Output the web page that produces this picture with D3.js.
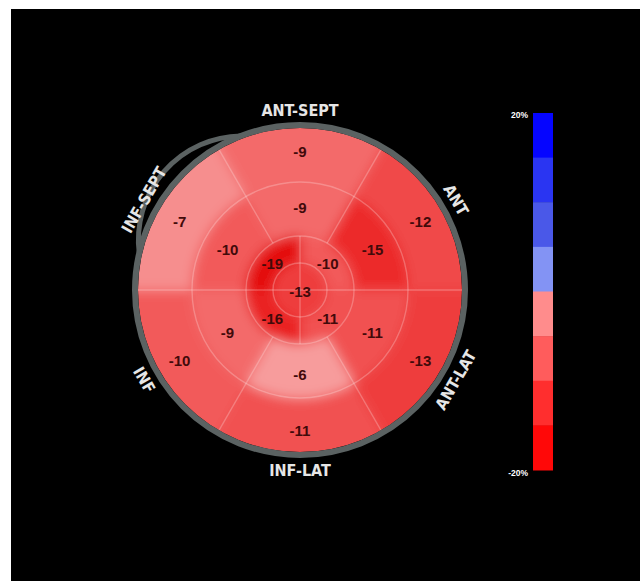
<!DOCTYPE html>
<html>
<head>
<meta charset="utf-8">
<script src="https://cdn.jsdelivr.net/npm/d3@7"></script>
<style>
  html, body { margin: 0; padding: 0; background: #fff; }
  svg { display: block; }
</style>
</head>
<body>
<svg id="chart" width="640" height="581"></svg>
<script>
// wall names, clockwise from the top
var walls = ["ANT-SEPT", "ANT", "ANT-LAT", "INF-LAT", "INF", "INF-SEPT"];
// peak strain (%) per segment
var basal = [-9, -12, -13, -11, -10, -7];
var mid = [-9, -15, -11, -6, -9, -10];
var apical = [-10, -11, -16, -19]; // quadrants clockwise from top-right
var apex = [-13];
// colour bar
var barSteps = [20, 15, 10, 5, 0, -5, -10, -15];
var barTicks = ["20%", "-20%"];

var svg = d3.select("#chart");
var cx = 300, cy = 290;
var unit = 27; // ring width

// black panel
svg.append("rect")
  .attr("x", 11).attr("y", 9)
  .attr("width", 629).attr("height", 572)
  .attr("fill", "#000");

// strain -> colour used inside the plot
var col = d3.scaleLinear()
  .domain([-20, -15, -10, -7, -5])
  .range(["#e20000", "#ec2c2c", "#f25a5a", "#f68e8e", "#f8aaaa"])
  .clamp(true);

var defs = svg.append("defs");
defs.append("filter").attr("id", "soft")
  .attr("x", "-20%").attr("y", "-20%").attr("width", "140%").attr("height", "140%")
  .append("feGaussianBlur").attr("stdDeviation", 6);
defs.append("clipPath").attr("id", "disc")
  .append("circle").attr("r", unit * 6);

var g = svg.append("g").attr("transform", "translate(" + cx + "," + cy + ")");

var arc = d3.arc();
var sixth = Math.PI / 3;

// build segment list from the arrays
var segs = [];
basal.forEach(function(v, i) {
  segs.push({v: v, r0: unit * 4, r1: unit * 6.6, a0: (i - 0.5) * sixth, a1: (i + 0.5) * sixth, lr: unit * 5.15, la: i * sixth});
});
mid.forEach(function(v, i) {
  segs.push({v: v, r0: unit * 2, r1: unit * 4, a0: (i - 0.5) * sixth, a1: (i + 0.5) * sixth, lr: unit * 3.1, la: i * sixth});
});
apical.forEach(function(v, i) {
  segs.push({v: v, r0: unit, r1: unit * 2, a0: i * Math.PI / 2, a1: (i + 1) * Math.PI / 2, lr: unit * 1.45, la: (i + 0.5) * Math.PI / 2});
});
apex.forEach(function(v) {
  segs.push({v: v, r0: 0, r1: unit, a0: 0, a1: 2 * Math.PI, lr: 0, la: 0});
});

var field = g.append("g").attr("clip-path", "url(#disc)")
  .append("g").attr("filter", "url(#soft)");

field.selectAll("path")
  .data(segs)
  .enter().append("path")
  .attr("d", function(d) {
    return arc({innerRadius: d.r0, outerRadius: d.r1, startAngle: d.a0, endAngle: d.a1});
  })
  .attr("fill", function(d) { return col(d.v); })
  .attr("stroke", function(d) { return col(d.v); })
  .attr("stroke-width", 1);

// faint segment outlines
var grid = g.append("g")
  .attr("stroke", "rgba(255,235,235,0.28)")
  .attr("stroke-width", 1.4)
  .attr("fill", "none");
[1, 2, 4].forEach(function(k) {
  grid.append("circle").attr("r", unit * k);
});
d3.range(6).forEach(function(i) {
  var a = (i + 0.5) * sixth;
  grid.append("line")
    .attr("x1", unit * 2 * Math.sin(a)).attr("y1", -unit * 2 * Math.cos(a))
    .attr("x2", unit * 6 * Math.sin(a)).attr("y2", -unit * 6 * Math.cos(a));
});
d3.range(4).forEach(function(i) {
  var a = i * Math.PI / 2;
  grid.append("line")
    .attr("x1", 0).attr("y1", 0)
    .attr("x2", unit * 2 * Math.sin(a)).attr("y2", -unit * 2 * Math.cos(a));
});

// grey rim
g.append("circle")
  .attr("r", unit * 6 + 3)
  .attr("fill", "none")
  .attr("stroke", "#5b6262")
  .attr("stroke-width", 6);

// extra rim piece on the upper left
var R = unit * 6 + 3;
var p1 = -21 * Math.PI / 180, p2 = -77 * Math.PI / 180; // d3 angles
g.append("path")
  .attr("d", "M" + (R * Math.sin(p1)) + "," + (-R * Math.cos(p1)) +
    " A104,104 0 0 0 " + (R * Math.sin(p2)) + "," + (-R * Math.cos(p2)))
  .attr("fill", "none")
  .attr("stroke", "#5b6262")
  .attr("stroke-width", 5);

// segment values
g.selectAll(".val")
  .data(segs)
  .enter().append("text")
  .attr("class", "val")
  .attr("x", function(d) { return d.lr * Math.sin(d.la); })
  .attr("y", function(d) { return -d.lr * Math.cos(d.la) + 1; })
  .attr("text-anchor", "middle")
  .attr("dominant-baseline", "central")
  .attr("fill", "#420a0a")
  .style("font", "bold 15px 'Liberation Sans', Arial, sans-serif")
  .text(function(d) { return d.v; });

// wall names around the rim
var labR = 180;
g.selectAll(".wall")
  .data(walls)
  .enter().append("text")
  .attr("class", "wall")
  .attr("transform", function(d, i) {
    var a = i * sixth;
    var x = labR * Math.sin(a), y = -labR * Math.cos(a);
    var rot = (i * 60) % 180;
    if (rot > 90) rot -= 180;
    return "translate(" + x + "," + y + ") rotate(" + rot + ")";
  })
  .attr("text-anchor", "middle")
  .attr("dominant-baseline", "central")
  .attr("fill", "#e6e6e6")
  .style("font", "bold 16px 'Liberation Sans Narrow', 'DejaVu Sans Condensed', Arial, sans-serif")
  .text(function(d) { return d; });

// colour bar
var barY = d3.scaleLinear().domain([20, -20]).range([113, 470]);
var barCol = d3.scaleOrdinal()
  .domain(barSteps)
  .range(["#0505ff", "#2a35f2", "#4a58e8", "#8393f4", "#ff8c8c", "#ff5c5c", "#ff2e2e", "#ff0808"]);

svg.selectAll(".band")
  .data(barSteps)
  .enter().append("rect")
  .attr("class", "band")
  .attr("x", 533)
  .attr("width", 20)
  .attr("y", function(d) { return barY(d); })
  .attr("height", function(d) { return barY(d - 5) - barY(d) + 0.5; })
  .attr("fill", function(d) { return barCol(d); });

svg.selectAll(".tick")
  .data(barTicks)
  .enter().append("text")
  .attr("class", "tick")
  .attr("x", 528)
  .attr("y", function(d, i) { return i === 0 ? barY(20) + 2 : barY(-20) + 3; })
  .attr("text-anchor", "end")
  .attr("dominant-baseline", "central")
  .attr("fill", "#fff")
  .style("font", "bold 8.5px 'Liberation Sans', Arial, sans-serif")
  .text(function(d) { return d; });
</script>
</body>
</html>
